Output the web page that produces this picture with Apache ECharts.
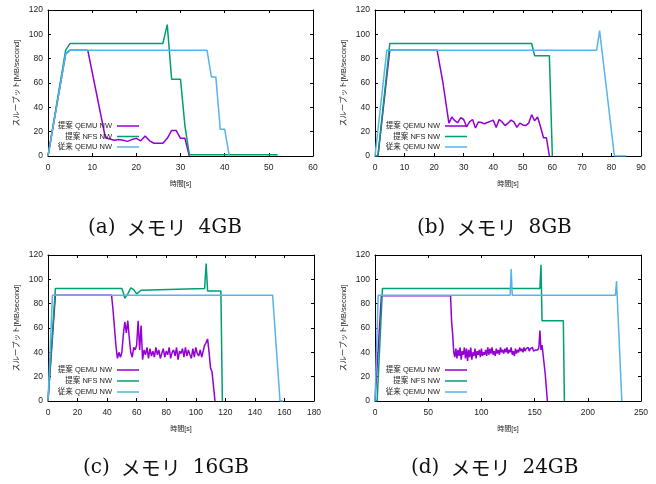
<!DOCTYPE html>
<html><head><meta charset="utf-8">
<script src="https://cdn.jsdelivr.net/npm/echarts@6/dist/echarts.min.js"></script>
<style>html,body{margin:0;padding:0;background:#fff}#c{width:656px;height:484px}</style>
</head><body><div id="c"></div>
<script>
// ---- data ----
const seriesNames = ['提案 QEMU NW', '提案 NFS NW', '従来 QEMU NW'];
const captionLabels = ['(a)', '(b)', '(c)', '(d)'];
const captionMemory = ['4GB', '8GB', '16GB', '24GB'];
const captionWord = 'メモリ';
const xMaxes = [60, 90, 180, 250];
const xSteps = [10, 10, 20, 50];
const yMax = 120, yStep = 20;
const xAxisTitle = '時間[s]';
const yAxisTitle = 'スループット[MB/second]';

// (a) 4GB
const aPropQemu = [[0,0],[4,84],[5,87],[9,87],[13,15],[14,14],[15,13],[16,13.5],[17,13],[18,12],[19,13.5],[20,14.5],[21,12.5],[22,16.5],[23,12.5],[24,10.5],[25,10.5],[26,10.5],[27,14.5],[28,21],[29,21],[30,14.5],[31,14.5],[32,0]];
const aPropNfs = [[0,0],[4,87],[5,92.5],[26,92.5],[27,108],[28,63],[30,63],[31,25],[32,1],[52,1]];
const aConvQemu = [[0,0],[4,84],[5,87],[36,87],[37,65],[38,65],[39,22],[40,22],[41,1]];

// (b) 8GB
const bPropQemu = [[0,0],[1,0],[5,87],[21,87],[23,60],[25,27],[26,32],[27,29],[28,27.5],[29,31.5],[30,30],[31,24],[32,28],[33,30],[34,23],[35,28],[36,27.5],[37,26.5],[38,27.5],[39,28.5],[40,29.5],[41,23.5],[42,30],[43,28],[44,25],[45,27],[46,29.5],[47,28],[48,23.5],[49,27],[50,25.5],[51,25],[52,27],[53,34],[54,29],[55,32],[56,24],[57,15],[58,15],[59,0]];
const bPropNfs = [[0,0],[1,0],[5,92.5],[53,92.5],[54,82.5],[59,82.5],[60,0]];
const bConvQemu = [[0,0],[4,87],[75,87],[76,103],[81,0],[85,0]];

// (c) 16GB
const cPropQemu = [[0,0],[1,0],[5,87],[43,87],[44,75],[45,60],[46,45],[47,35],[48,40],[49,36],[50,40],[51,55],[52,65],[53,56],[54,66],[55,52],[56,40],[57,36],[58,44],[59,42],[60,46],[61,66],[62,42],[63,62],[64,34],
  [65,42],[66,38],[67,44],[68,35],[69,43],[70,37],[71,41],[72,36],[73,44],[74,38],[75,42],[76,35],[77,39],[78,43],[79,36],[80,41],[81,38],[82,44],[83,35],[84,40],[85,42],[86,37],[87,44],[88,34],[89,41],[90,39],[91,43],[92,36],[93,44],[94,37],[95,42],[96,38],[97,35],[98,43],[99,36],[100,44],[101,39],[102,37],[103,42],[104,36],
  [105,35],[106,46],[107,48],[108,51],[109,40],[110,27],[111,24],[113,0]];
const cPropNfs = [[0,0],[1,0],[5,92.5],[50,92.5],[51,89],[52,84.5],[53,84.5],[54,88],[56,93],[58,91.5],[60,88],[61,88.5],[63,91],[64,92.5],[106,92.5],[107,113],[108,90.5],[117,90.5],[118,0]];
const cConvQemu = [[0,0],[3,87],[152,87],[157,0],[159,0]];

// (d) 24GB
const dPropQemu = [[0,0],[1,0],[6,86.5],[71,86.5],[72,65],[73,55],[74,40],
  [75,36],[76,43],[77,35],[78,42],[79,37],[80,44],[81,34],[82,41],[83,38],[84,44],[85,35],[86,43],[87,33],[88,42],[89,36],[90,44],[91,34],[92,40],[93,37],[94,43],[95,35],[96,41],[97,38],[98,42],[99,36],[100,43],[101,37],[102,40],[103,38],[104,42],[105,37],[106,44],[107,38],[108,43],[109,39],[110,44],[111,38],[112,41],[113,37],[114,43],[115,39],[116,42],[117,38],[118,44],[119,40],[120,42],[121,39],[122,43],[123,40],[124,44],[125,39],[126,42],[127,40],[128,44],[129,38],[130,41],[131,37],[132,43],[133,39],[134,42],[135,40],[136,44],[137,41],[138,43],[139,40],[140,44],[141,41],[142,43],[143,42],[144,44],[145,41],[146,43],[147,42],[148,44],[149,41],[150,40],[151,42],[152,43],[153,42],[154,44],
  [155,58],[156,42],[157,46],[158,45],[160,22],[162,0]];
const dPropNfs = [[0,0],[2,0],[7,92.5],[155,92.5],[156,112],[157,66],[177,66],[178,0]];
const dConvQemu = [[0,0],[3,87],[127,87],[128,108.5],[129,87],[226,87],[227,98.5],[228,97],[232,0]];

const panelData = [
  [aPropQemu, aPropNfs, aConvQemu],
  [bPropQemu, bPropNfs, bConvQemu],
  [cPropQemu, cPropNfs, cConvQemu],
  [dPropQemu, dPropNfs, dConvQemu]
];

// ---- layout / style ----
const colors = ['#9400d3', '#009e73', '#56b4e9'];
const grids = [
  {left: 48, top: 10, width: 265, height: 146},
  {left: 375, top: 10, width: 266, height: 146},
  {left: 48, top: 255, width: 266, height: 146},
  {left: 375, top: 255, width: 266, height: 146}
];
// legend: right edge of the line sample, and vertical centres of rows
const legendRight = [517, 189, 517, 189];
const legendRows = [[126, 136.5, 147], [126, 136.5, 147], [370, 381, 392], [370, 381, 392]];
const captionPos = [[88, 228], [417, 228], [83, 468], [411, 468]];
const sans = "'Liberation Sans','Noto Sans CJK JP',sans-serif";
const serif = "'DejaVu Serif','Noto Sans CJK JP',serif";

const chart = echarts.init(document.getElementById('c'), null, {renderer: 'canvas'});
const xAxes = [], yAxes = [], series = [], legends = [], graphics = [];
const tick = {show: true, inside: true, length: 3, lineStyle: {color: '#000', width: 1}};
const line = {show: true, onZero: false, lineStyle: {color: '#000', width: 1}};

grids.forEach((g, i) => {
  const xb = {gridIndex: i, type: 'value', position: 'bottom', min: 0, max: xMaxes[i], interval: xSteps[i],
    axisLine: line, axisTick: tick, splitLine: {show: false},
    axisLabel: {fontSize: 8.5, fontFamily: sans, color: '#222', margin: 7},
    name: xAxisTitle, nameLocation: 'middle', nameGap: 25,
    nameTextStyle: {fontSize: 7, fontFamily: sans, color: '#222'}};
  const xt = {gridIndex: i, type: 'value', position: 'top', min: 0, max: xMaxes[i], interval: xSteps[i],
    axisLine: line, axisTick: tick, splitLine: {show: false}, axisLabel: {show: false}};
  const yl = {gridIndex: i, type: 'value', position: 'left', min: 0, max: yMax, interval: yStep,
    axisLine: line, axisTick: tick, splitLine: {show: false},
    axisLabel: {fontSize: 8.5, fontFamily: sans, color: '#222', margin: 5},
    name: yAxisTitle, nameLocation: 'middle', nameGap: 27, nameRotate: 90,
    nameTextStyle: {fontSize: 7.5, fontFamily: sans, color: '#222'}};
  const yr = {gridIndex: i, type: 'value', position: 'right', min: 0, max: yMax, interval: yStep,
    axisLine: line, axisTick: tick, splitLine: {show: false}, axisLabel: {show: false}};
  xAxes.push(xb, xt);
  yAxes.push(yl, yr);
  panelData[i].forEach((d, k) => {
    series.push({type: 'line', name: seriesNames[k], xAxisIndex: 2 * i, yAxisIndex: 2 * i,
      data: d, symbol: 'none', color: colors[k], lineStyle: {width: 1.5, color: colors[k]},
      animation: false, silent: true});
    legends.push({orient: 'horizontal', right: legendRight[i], top: legendRows[i][k] - 4.5,
      align: 'right', icon: 'rect', itemWidth: 22, itemHeight: 1.5, padding: 0,
      data: [seriesNames[k]], selectedMode: false,
      textStyle: {fontSize: 7.5, fontFamily: sans, color: '#222', lineHeight: 9, padding: [0, 0, 0, 0]}});
  });
  graphics.push({type: 'text', x: captionPos[i][0], y: captionPos[i][1],
    style: {text: '{p|' + captionLabels[i] + '}{s| }{j|' + captionWord + '}{t| }{p|' + captionMemory[i] + '}',
      textAlign: 'left', textVerticalAlign: 'middle',
      rich: {
        p: {fontSize: 20, fontFamily: serif, fill: '#111', color: '#111'},
        s: {fontSize: 20, fontFamily: serif, width: 11},
        t: {fontSize: 20, fontFamily: serif, width: 12},
        j: {fontSize: 20, fontFamily: 'Noto Sans CJK JP', fill: '#111', color: '#111'}
      }}});
});

chart.setOption({
  animation: false,
  backgroundColor: '#fff',
  grid: grids.map(g => Object.assign({containLabel: false, show: false}, g)),
  xAxis: xAxes,
  yAxis: yAxes,
  legend: legends,
  series: series,
  graphic: graphics
});
</script>
</body></html>
